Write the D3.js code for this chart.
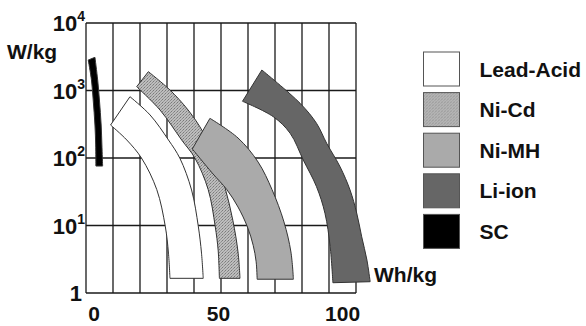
<!DOCTYPE html>
<html>
<head>
<meta charset="utf-8">
<script src="https://cdn.jsdelivr.net/npm/d3@7"></script>
<style>
  html, body { margin: 0; padding: 0; background: #fff; }
  svg { display: block; }
  text { font-family: "Liberation Sans", Arial, Helvetica, sans-serif; font-weight: bold; fill: #111; }
</style>
</head>
<body>
<svg id="chart" width="586" height="326"></svg>
<script>
// band edges as [Wh/kg, W/kg], top to bottom
const leadAcidOuter = [[14.4, 809], [22.5, 434], [29.9, 185], [34.5, 99], [39.2, 33.6], [41.9, 9.8], [43.2, 3.9], [43.9, 1.65]];
const leadAcidInner = [[6.6, 308], [13.1, 185], [19.1, 99], [25.2, 34], [28.6, 9.8], [29.9, 3.9], [30.5, 1.65]];

const niCdOuter = [[21.8, 1900], [30.5, 1017], [37.8, 514], [43.8, 243], [48.7, 100], [52.7, 36], [55.8, 12], [57.9, 4.05], [58.7, 1.65]];
const niCdInner = [[17.1, 1138], [26.5, 514], [35.2, 185], [40.6, 99], [45.9, 34], [48.7, 9.8], [49.9, 4.3], [50.4, 1.65]];

const niMHOuter = [[46.6, 387], [57.9, 198], [66.0, 87], [71.6, 34], [76.4, 11.3], [79.2, 4.05], [80.2, 1.6]];
const niMHInner = [[39.5, 136], [47.5, 60], [53.4, 34], [57.9, 18.8], [61.7, 9.5], [64.0, 5.1], [65.2, 2.9], [65.6, 1.6]];

const liIonOuter = [[67.5, 2013], [82.9, 646], [89.5, 327], [93.6, 165], [99.0, 74], [103.0, 33.6], [105.7, 15.2], [107.7, 6.8], [109.8, 3.08], [111.1, 1.47]];
const liIonInner = [[59.7, 692], [72.1, 409], [78.9, 232], [84.2, 93], [89.5, 37.6], [92.9, 15.2], [95.0, 4.85], [96.1, 1.42]];

const scOuter = [[0.3, 3100], [1.4, 1430], [2.1, 723], [2.8, 308], [3.1, 156], [3.4, 76]];
const scInner = [[-2.4, 2830], [-1.1, 1430], [-0.4, 723], [0.3, 308], [0.6, 156], [0.7, 76]];

const chemistries = ["Lead-Acid", "Ni-Cd", "Ni-MH", "Li-ion", "SC"];
const fills = ["#ffffff", "url(#stipple)", "#aaaaaa", "#666666", "#000000"];
const bands = [
  [leadAcidOuter, leadAcidInner],
  [niCdOuter, niCdInner],
  [niMHOuter, niMHInner],
  [liIonOuter, liIonInner],
  [scOuter, scInner]
];

const xTicks = [0, 50, 100];
const yTicks = [1, 10, 100, 1000, 10000];
const yExponents = [0, 1, 2, 3, 4];

const svg = d3.select("#chart");

const x = d3.scaleLinear().domain([-3.3, 105.4]).range([86, 356]);
const y = d3.scaleLog().domain([1, 1e4]).range([293, 23]);

// stipple texture for Ni-Cd
const pat = svg.append("defs").append("pattern")
  .attr("id", "stipple")
  .attr("patternUnits", "userSpaceOnUse")
  .attr("width", 3).attr("height", 3);
pat.append("rect").attr("width", 3).attr("height", 3).attr("fill", "#bdbdbd");
pat.append("rect").attr("x", 0).attr("y", 0).attr("width", 1).attr("height", 1).attr("fill", "#7a7a7a");
pat.append("rect").attr("x", 2).attr("y", 1).attr("width", 1).attr("height", 1).attr("fill", "#8e8e8e");
pat.append("rect").attr("x", 1).attr("y", 2).attr("width", 1).attr("height", 1).attr("fill", "#9a9a9a");

// grid
const [gx0, gx1] = x.domain();
const gridX = d3.range(11).map((i) => gx0 + ((gx1 - gx0) * i) / 10);
const grid = svg.append("g").attr("stroke", "#1a1a1a").attr("stroke-width", 1.3);
grid.selectAll("line.v").data(gridX).enter().append("line")
  .attr("x1", (d) => x(d)).attr("x2", (d) => x(d))
  .attr("y1", y(1e4)).attr("y2", y(1));
grid.selectAll("line.h").data(yTicks).enter().append("line")
  .attr("x1", x(gx0)).attr("x2", x(gx1))
  .attr("y1", (d) => y(d)).attr("y2", (d) => y(d));

// bands
const edge = d3.line()
  .x((d) => x(d[0]))
  .y((d) => y(d[1]))
  .curve(d3.curveCatmullRom);

function bandPath(b) {
  const outer = edge(b[0]);
  const inner = edge(b[1].slice().reverse());
  return outer + inner.replace(/^M/, "L") + "Z";
}

svg.append("g").selectAll("path").data(bands).enter().append("path")
  .attr("d", bandPath)
  .attr("fill", (d, i) => fills[i])
  .attr("stroke", "#333")
  .attr("stroke-width", 1)
  .attr("stroke-linejoin", "round");

// y tick labels
const yl = svg.append("g").selectAll("text").data(yTicks).enter().append("text")
  .attr("x", 85)
  .attr("y", (d) => y(d) + 8)
  .attr("text-anchor", "end")
  .style("font-size", "22px");
yl.each(function (d, i) {
  const t = d3.select(this);
  if (yExponents[i] === 0) {
    t.attr("x", 82).text("1");
  } else {
    t.append("tspan").text("10");
    t.append("tspan").attr("dy", -10).style("font-size", "14px").text(yExponents[i]);
  }
});

// x tick labels
svg.append("g").selectAll("text").data(xTicks).enter().append("text")
  .attr("x", (d) => x(d))
  .attr("y", 321)
  .attr("text-anchor", "middle")
  .style("font-size", "21px")
  .text((d) => d);

// axis titles
svg.append("text").attr("x", 7).attr("y", 59).style("font-size", "21px").text("W/kg");
svg.append("text").attr("x", 374).attr("y", 282).style("font-size", "21px").text("Wh/kg");

// legend
const legend = svg.append("g").selectAll("g").data(chemistries).enter().append("g")
  .attr("transform", (d, i) => "translate(423.5," + (52 + i * 40.6) + ")");
legend.append("rect")
  .attr("width", 36).attr("height", 34)
  .attr("fill", (d, i) => fills[i])
  .attr("stroke", "#555").attr("stroke-width", 1);
legend.append("text")
  .attr("x", 56).attr("y", 24.5)
  .style("font-size", "21px")
  .text((d) => d);
</script>
</body>
</html>
